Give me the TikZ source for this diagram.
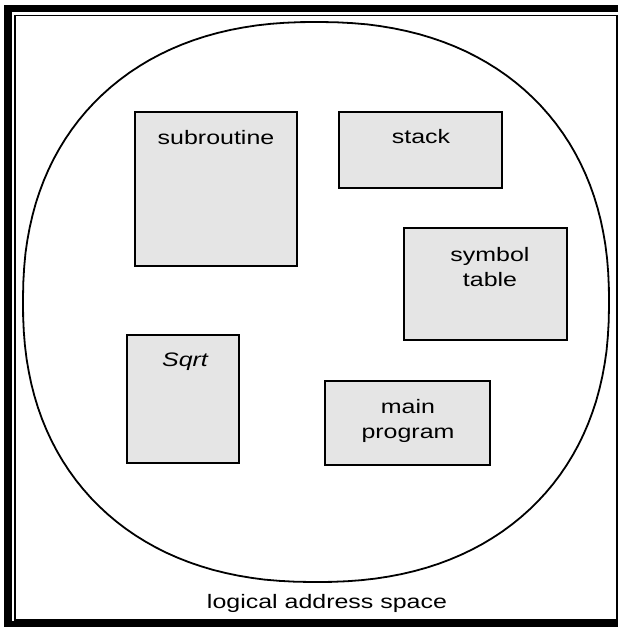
\documentclass[tikz,border=0pt]{standalone}
\usepackage{fontspec}
\setmainfont{Liberation Sans}
\usepackage{tikz}

\tikzset{
	segbox/.style={draw, rectangle, black, fill=black!10, line width=1.8pt, inner sep=0pt, outer sep=0pt},
	seglabel/.style={font=\fontsize{19.5}{25}\selectfont, xscale=1.28, align=center, inner sep=0pt}
}

\begin{document}
\begin{tikzpicture}[x=1pt, y=-1pt]
	\useasboundingbox (0,0) rectangle (621,627);
	\fill[white] (0,0) rectangle (621,627);
	
	% frame
	\draw[line width=7.5pt] (618,8.5) -- (8,8.5) -- (8,625) -- (618,625);
	\draw[line width=1.6pt] (15,15.5) rectangle (617,620);
	
	% address space outline
	\draw[line width=1.8pt] plot[domain=0.5:360.5, samples=145]
		({316+293*sign(cos(\x))*abs(cos(\x))^0.889},{302+280*sign(sin(\x))*abs(sin(\x))^0.889}) -- cycle;
	
	\node [name=subroutine, segbox, minimum width=162, minimum height=154] at (216,189) {};
	\node [name=stack, segbox, minimum width=163, minimum height=76] at (420.5,150) {};
	\node [name=symtab, segbox, minimum width=163, minimum height=112] at (485.5,284) {};
	\node [name=sqrt, segbox, minimum width=112, minimum height=128] at (183,399) {};
	\node [name=mainprog, segbox, minimum width=165, minimum height=84] at (407.5,423) {};
	
	\node [name=subroutinetxt, seglabel] at (216,138) {subroutine};
	\node [name=stacktxt, seglabel] at (421,137) {stack};
	\node [name=symtabtxt, seglabel] at (490,267.5) {symbol\\table};
	\node [name=sqrttxt, seglabel, font=\fontsize{19.5}{25}\selectfont\itshape] at (185,362) {Sqrt};
	\node [name=mainprogtxt, seglabel] at (408,420.5) {main\\program};
	
	\node [name=spacetxt, seglabel] at (327,603) {logical address space};
	
\end{tikzpicture}
\end{document}
